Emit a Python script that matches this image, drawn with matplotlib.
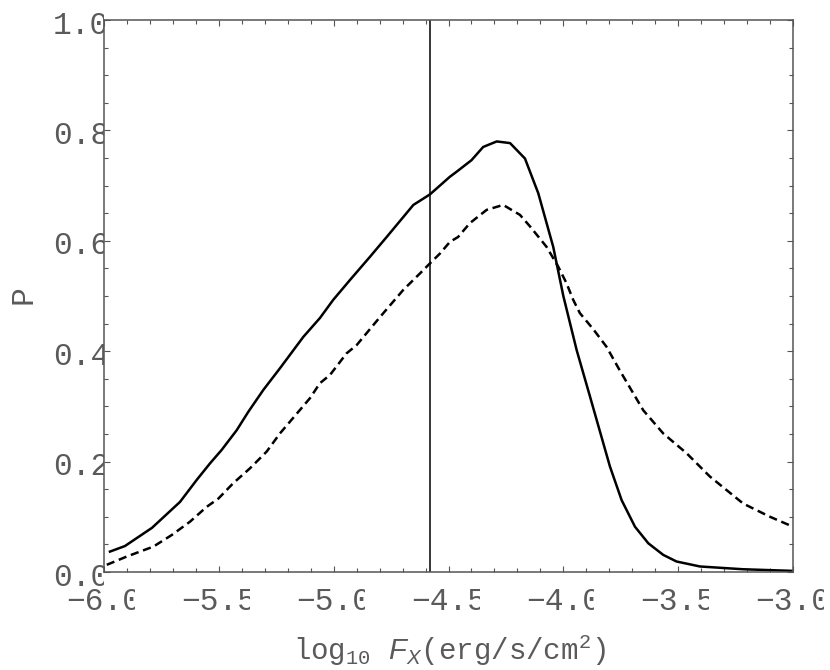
import matplotlib
matplotlib.use('Agg')
import matplotlib.pyplot as plt
import matplotlib.transforms as mtransforms
from matplotlib.ticker import MultipleLocator

# solid curve
x_solid = [-5.974, -5.909, -5.791, -5.669, -5.596, -5.538, -5.488, -5.422,
           -5.372, -5.306, -5.234, -5.132, -5.060, -5.002, -4.929, -4.842,
           -4.769, -4.653, -4.581, -4.494, -4.465, -4.400, -4.349, -4.290,
           -4.232, -4.167, -4.109, -4.044, -4.000, -3.942, -3.884, -3.797,
           -3.746, -3.688, -3.630, -3.565, -3.507, -3.405, -3.218, -3.000]
p_solid = [0.037, 0.047, 0.080, 0.127, 0.167, 0.197, 0.221, 0.257,
           0.290, 0.330, 0.369, 0.426, 0.460, 0.493, 0.529, 0.571,
           0.607, 0.665, 0.684, 0.716, 0.725, 0.746, 0.770, 0.780,
           0.777, 0.749, 0.686, 0.589, 0.500, 0.402, 0.318, 0.191,
           0.130, 0.082, 0.052, 0.031, 0.019, 0.010, 0.005, 0.002]

# dashed curve
x_dash = [-5.988, -5.901, -5.785, -5.705, -5.626, -5.553, -5.502, -5.437,
          -5.364, -5.292, -5.234, -5.103, -5.060, -5.016, -4.944, -4.900,
          -4.798, -4.697, -4.624, -4.581, -4.537, -4.494, -4.458, -4.407,
          -4.334, -4.262, -4.189, -4.145, -4.073, -4.022, -3.986, -3.957,
          -3.928, -3.870, -3.812, -3.754, -3.652, -3.565, -3.463, -3.362,
          -3.217, -3.100, -3.000]
p_dash = [0.013, 0.028, 0.046, 0.067, 0.091, 0.118, 0.133, 0.161,
          0.188, 0.218, 0.251, 0.315, 0.342, 0.357, 0.396, 0.411,
          0.462, 0.511, 0.541, 0.559, 0.577, 0.598, 0.607, 0.632,
          0.656, 0.665, 0.647, 0.626, 0.589, 0.553, 0.523, 0.493,
          0.469, 0.440, 0.408, 0.365, 0.293, 0.251, 0.215, 0.173,
          0.124, 0.100, 0.082]

x_cut = -4.58

x_ticks = [-6.0, -5.5, -5.0, -4.5, -4.0, -3.5, -3.0]
x_labels = ['\u22126.0', '\u22125.5', '\u22125.0', '\u22124.5', '\u22124.0', '\u22123.5', '\u22123.0']
y_ticks = [0.0, 0.2, 0.4, 0.6, 0.8, 1.0]
y_labels = ['0.0', '0.2', '0.4', '0.6', '0.8', '1.0']

plt.rcParams['mathtext.fontset'] = 'custom'
plt.rcParams['mathtext.rm'] = 'Liberation Mono'
plt.rcParams['mathtext.it'] = 'Liberation Sans:italic'

W, H = 830, 670
fig = plt.figure(figsize=(W / 100, H / 100), dpi=100)
x0, x1, y0, y1 = 104, 793, 20, 572
ax = fig.add_axes([x0 / W, 1 - y1 / H, (x1 - x0) / W, (y1 - y0) / H])

ax.plot(x_solid, p_solid, color='black', lw=1.8, solid_joinstyle='round')
ax.plot(x_dash, p_dash, color='black', lw=1.8, linestyle=(0, (3.3, 1.9)))
ax.axvline(x_cut, color='black', lw=1.1)

ax.set_xlim(-6, -3)
ax.set_ylim(0, 1)

frame_col = '#555555'
for sp in ax.spines.values():
    sp.set_color(frame_col)
    sp.set_linewidth(1.1)

ax.xaxis.set_major_locator(MultipleLocator(0.5))
ax.xaxis.set_minor_locator(MultipleLocator(0.1))
ax.yaxis.set_major_locator(MultipleLocator(0.2))
ax.yaxis.set_minor_locator(MultipleLocator(0.05))
ax.tick_params(which='both', direction='in', top=True, right=True,
               color=frame_col, width=0.8, labelbottom=False, labelleft=False)
ax.tick_params(which='major', length=4.5)
ax.tick_params(which='minor', length=2.8)

text_col = '#5a5a5a'
tick_font = dict(family='Liberation Mono', size=22.5, color=text_col)
dpi = fig.dpi

# x tick labels, clipped on the right like the original rendering
xtrans = mtransforms.blended_transform_factory(ax.transData, ax.transAxes)
for xv, lab in zip(x_ticks, x_labels):
    px = ax.transData.transform((xv, 0))[0]
    t = fig.text(xv, 0, lab, ha='center', va='baseline',
                 transform=xtrans + mtransforms.ScaledTranslation(0, -38 / dpi, fig.dpi_scale_trans),
                 **tick_font)
    t.set_clip_box(mtransforms.Bbox([[px - 60, 0], [px + 31, H]]))
    t.set_clip_on(True)

# y tick labels, clipped at the left frame
ytrans = mtransforms.blended_transform_factory(ax.transAxes, ax.transData)
for yv, lab in zip(y_ticks, y_labels):
    t = fig.text(0, yv, lab, ha='right', va='baseline',
                 transform=ytrans + mtransforms.ScaledTranslation(5 / dpi, -13.5 / dpi, fig.dpi_scale_trans),
                 **tick_font)
    t.set_clip_box(mtransforms.Bbox([[0, 0], [x0 - 0.5, H]]))
    t.set_clip_on(True)

fig.text(23 / W, 1 - 295 / H, 'P', rotation=90, ha='center', va='center',
         family='Liberation Mono', size=22.5, color=text_col)
fig.text(449 / W, 1 - 650 / H, r'log$_{10}$ $F_X$(erg/s/cm$^2$)', ha='center', va='center',
         family='Liberation Mono', size=21, color=text_col)

fig.savefig('out.png', dpi=100)
